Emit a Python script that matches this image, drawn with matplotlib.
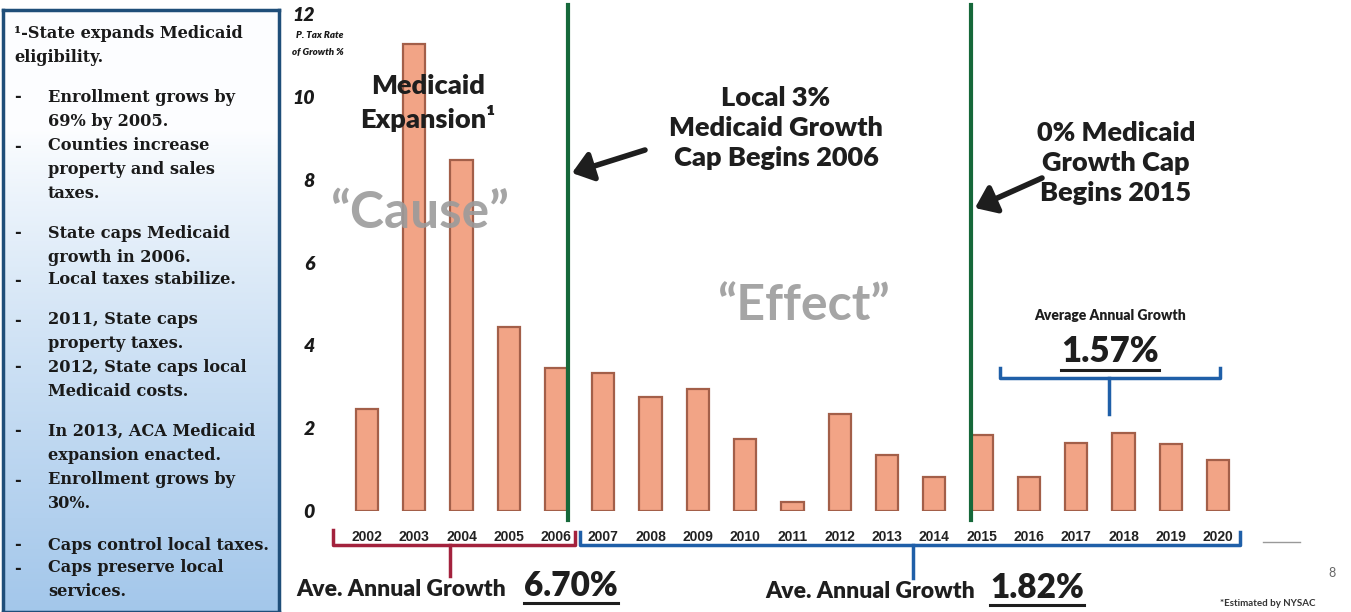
import numpy as np
import matplotlib
matplotlib.use("Agg")
import matplotlib.pyplot as plt
from matplotlib.transforms import Affine2D, blended_transform_factory
from matplotlib.lines import Line2D
from matplotlib.patches import FancyArrowPatch

# ---------------- data ----------------
years = ["2002", "2003", "2004", "2005", "2006", "2007", "2008", "2009", "2010", "2011",
         "2012", "2013", "2014", "2015", "2016", "2017", "2018", "2019", "2020"]
growth = [2.46, 11.28, 8.48, 4.44, 3.45, 3.33, 2.75, 2.95, 1.74, 0.22,
          2.34, 1.35, 0.82, 1.84, 0.82, 1.64, 1.88, 1.62, 1.23]
y_ticks = [0, 2, 4, 6, 8, 10, 12]
cap_lines = [4.25, 12.77]           # positions between bars where caps begin
pre_avg = "6.70%"
post_avg = "1.82%"
recent_avg = "1.57%"
side_notes = [
    ("\u00b9-State expands Medicaid", 33, 14),
    ("eligibility.", 58, 14),
    ("-", 97, 14), ("Enrollment grows by", 97, 48), ("69% by 2005.", 122, 48),
    ("-", 146, 14), ("Counties increase", 146, 48), ("property and sales", 170, 48), ("taxes.", 193, 48),
    ("-", 233, 14), ("State caps Medicaid", 233, 48), ("growth in 2006.", 257, 48),
    ("-", 280, 14), ("Local taxes stabilize.", 280, 48),
    ("-", 320, 14), ("2011, State caps", 320, 48), ("property taxes.", 343, 48),
    ("-", 367, 14), ("2012, State caps local", 367, 48), ("Medicaid costs.", 391, 48),
    ("-", 431, 14), ("In 2013, ACA Medicaid", 431, 48), ("expansion enacted.", 455, 48),
    ("-", 480, 14), ("Enrollment grows by", 480, 48), ("30%.", 503, 48),
    ("-", 545, 14), ("Caps control local taxes.", 545, 48),
    ("-", 568, 14), ("Caps preserve local", 568, 48), ("services.", 592, 48),
]

W, H = 1351, 612
fig = plt.figure(figsize=(W / 100, H / 100), dpi=100)
fig.patch.set_facecolor("white")
PX = Affine2D().scale(1 / W, -1 / H).translate(0, 1) + fig.transFigure

SANS = ["Lato", "DejaVu Sans"]
SERIF = ["DejaVu Serif"]
INK = "#1a1a1a"

# ---------------- left note box ----------------
box_ax = fig.add_axes([3 / W, 0, 276 / W, 1 - 10 / H])
grad = np.linspace(0, 1, 256).reshape(-1, 1)
top = np.array([0.99, 0.995, 1.0])
bot = np.array([0.64, 0.78, 0.92])
w = np.clip((grad - 0.2) / 0.8, 0, 1) ** 0.85
img = top[None, None, :] * (1 - w[..., None]) + bot[None, None, :] * w[..., None]
box_ax.imshow(img, aspect="auto", extent=[0, 1, 0, 1], origin="upper")
box_ax.set_xticks([]); box_ax.set_yticks([])
for s in box_ax.spines.values():
    s.set_color("#1f4e79"); s.set_linewidth(2.5)

for txt, y, x in side_notes:
    fig.text(x, y, txt, transform=PX, fontsize=11.6, fontweight="bold", family=SERIF,
             color=INK, va="center", ha="left")

# ---------------- chart ----------------
ax_left, ax_right, ax_top, ax_bot = 330, 1245, 14, 511
ax = fig.add_axes([ax_left / W, 1 - ax_bot / H, (ax_right - ax_left) / W, (ax_bot - ax_top) / H])
ax.set_facecolor("none")
x = np.arange(len(years))
ax.bar(x, growth, width=0.47, color="#f2a486", edgecolor="#a35f49", linewidth=1.6, zorder=2)
ax.set_xlim(-0.78, 18.57)
ax.set_ylim(0, 12)
ax.set_yticks(y_ticks)
ax.set_yticklabels([str(t) for t in y_ticks], fontsize=14, fontweight="heavy",
                   fontstyle="italic", family=SANS, color=INK)
ax.set_xticks(x)
ax.set_xticklabels(years, fontsize=10, fontweight="bold", family=["Liberation Sans"], color="#222222")
ax.tick_params(axis="both", length=0)
ax.tick_params(axis="y", pad=11)
ax.tick_params(axis="x", pad=14)
for s in ax.spines.values():
    s.set_visible(False)

BX = blended_transform_factory(ax.transData, PX)

# green cap lines
for cx in cap_lines:
    ax.add_line(Line2D([cx, cx], [5, 520], transform=BX, color="#16683a", lw=3, clip_on=False, zorder=3))

# axis caption
fig.text(320, 36, "P. Tax Rate", transform=PX, fontsize=7, fontweight="heavy", fontstyle="italic",
         family=SANS, ha="center", va="center", color=INK)
fig.text(318, 52, "of Growth %", transform=PX, fontsize=7, fontweight="heavy", fontstyle="italic",
         family=SANS, ha="center", va="center", color=INK)

# annotations
HEAD = dict(fontsize=19.5, fontweight="heavy", family=SANS, ha="center", va="center",
            color="#1e1e1e", linespacing=1.3, transform=PX)
fig.text(428, 103, "Medicaid\nExpansion\u00b9", zorder=5, **HEAD)
fig.text(420, 213, "\u201cCause\u201d", transform=PX, fontsize=37, fontweight="bold",
         family=SANS, ha="center", va="center", color="#9b9b9b", alpha=0.9)
fig.text(776, 128, "Local 3%\nMedicaid Growth\nCap Begins 2006", **HEAD)
fig.text(803, 305, "\u201cEffect\u201d", transform=PX, fontsize=36, fontweight="bold",
         family=SANS, ha="center", va="center", color="#9b9b9b", alpha=0.9)
fig.text(1116, 163, "0% Medicaid\nGrowth Cap\nBegins 2015", **HEAD)

arrow_kw = dict(arrowstyle="-|>,head_length=0.6,head_width=0.45", lw=4, color="#1e1e1e",
                mutation_scale=20, shrinkA=0, shrinkB=0)
fig.add_artist(FancyArrowPatch((645, 150), (572, 173), transform=PX, **arrow_kw))
fig.add_artist(FancyArrowPatch((1042, 178), (975, 208), transform=PX, **arrow_kw))

fig.text(1110, 316, "Average Annual Growth", transform=PX, fontsize=10, fontweight="heavy",
         family=SANS, ha="center", va="center", color="#1e1e1e")
t157 = fig.text(1110, 352, recent_avg, transform=PX, fontsize=25, fontweight="heavy",
                family=SANS, ha="center", va="center", color="#1e1e1e")

# 1.57% bracket
bc = "#1f5fa8"
for xs, ys in [([13.39, 13.39, 18.04, 18.04], [368, 378, 378, 368]), ([15.7, 15.7], [378, 414])]:
    ax.add_line(Line2D(xs, ys, transform=BX, color=bc, lw=2.5, clip_on=False))

# bottom brackets
rc = "#a3223d"
ax.add_line(Line2D([-0.72, -0.72, 4.4, 4.4], [530, 545, 545, 532], transform=BX, color=rc, lw=2.5, clip_on=False))
ax.add_line(Line2D([1.76, 1.76], [545, 576], transform=BX, color=rc, lw=2.5, clip_on=False))
ax.add_line(Line2D([4.5, 4.5, 18.46, 18.46], [532, 545, 545, 532], transform=BX, color=bc, lw=2.5, clip_on=False))
ax.add_line(Line2D([11.55, 11.55], [545, 578], transform=BX, color=bc, lw=2.5, clip_on=False))

fig.text(296, 589, "Ave. Annual Growth", transform=PX, fontsize=16.5, fontweight="heavy",
         family=SANS, ha="left", va="center", color="#1e1e1e")
t670 = fig.text(524, 586, pre_avg, transform=PX, fontsize=24, fontweight="heavy",
                family=SANS, ha="left", va="center", color="#1e1e1e")
fig.text(765, 591, "Ave. Annual Growth", transform=PX, fontsize=16.5, fontweight="heavy",
         family=SANS, ha="left", va="center", color="#1e1e1e")
t182 = fig.text(990, 588, post_avg, transform=PX, fontsize=24, fontweight="heavy",
                family=SANS, ha="left", va="center", color="#1e1e1e")

fig.text(1268, 604, "*Estimated by NYSAC", transform=PX, fontsize=7, fontweight="bold",
         family=SANS, ha="center", va="center", color="#333")
fig.text(1332, 573, "8", transform=PX, fontsize=9, family=SANS, ha="center", va="center", color="#666")
fig.add_artist(Line2D([1263, 1300], [542, 542], transform=PX, color="#999", lw=1))

# underlines
fig.canvas.draw()
r = fig.canvas.get_renderer()
for t in (t157, t670, t182):
    bb = t.get_window_extent(r)
    yb = bb.y0 - 1
    fig.add_artist(Line2D([bb.x0, bb.x1], [yb, yb], transform=None, color="#1e1e1e", lw=2.2))

fig.savefig("out.png", dpi=100, facecolor="white")
